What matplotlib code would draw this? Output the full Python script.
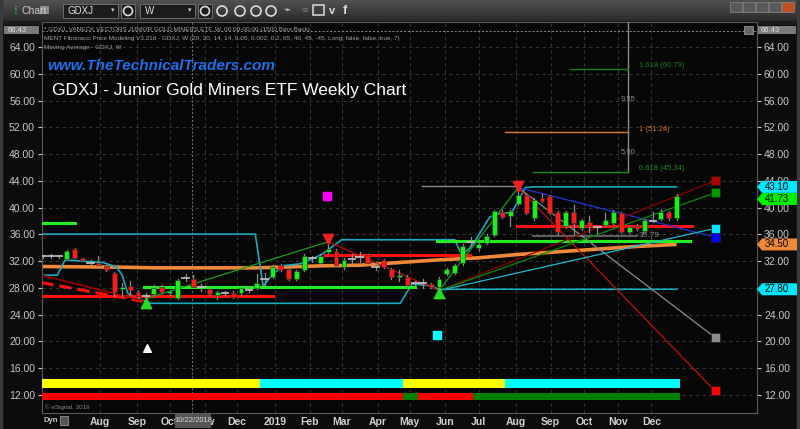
import matplotlib
matplotlib.use('Agg')
import matplotlib.pyplot as plt
from matplotlib.patches import Rectangle, Polygon, Circle
import numpy as np

plt.rcParams['font.family'] = ['Liberation Sans', 'DejaVu Sans']

# ---------------- data ----------------
opens  = [32.7,32.7,32.7,32.3,33.8,32.4,31.8,31.8,31.3,30.3,27.8,28.3,27.4,26.8,27.1,28.2,27.2,26.5,29.5,29.4,
          28.2,27.9,26.9,27.3,27.3,27.2,27.7,28.0,29.3,29.7,31.4,30.8,29.4,30.7,32.4,31.8,33.4,33.5,31.2,32.3,
          32.6,32.9,31.2,32.1,30.8,29.7,29.7,28.7,28.7,28.6,28.1,30.1,30.3,31.7,34.9,33.9,34.7,35.9,39.4,38.8,
          40.6,41.9,38.4,41.5,41.7,39.3,37.2,39.3,36.9,37.8,37.1,37.4,37.7,39.2,36.4,37.3,36.5,38.0,38.3,39.3,38.4]
closes = [32.7,32.7,32.7,33.5,32.5,32.1,31.8,31.4,30.7,27.4,28.2,27.7,26.8,26.8,28.0,27.4,27.5,29.2,29.5,28.2,
          28.2,27.1,27.4,27.3,26.7,28.0,27.7,28.8,29.3,31.2,30.7,29.4,30.5,32.8,32.4,32.8,33.8,31.5,32.2,32.3,
          32.6,31.8,31.2,31.2,29.6,30.0,28.4,28.7,28.7,28.2,29.4,30.8,31.4,34.3,34.9,34.6,35.8,39.5,38.6,39.5,
          41.9,39.2,41.2,41.0,39.2,36.3,39.3,37.7,38.1,37.3,37.1,38.1,39.4,36.4,37.1,36.8,38.1,38.0,39.3,38.4,41.7]
highs  = [32.9,33.0,32.9,33.6,34.0,32.5,32.1,32.8,31.4,30.4,28.7,29.0,27.5,27.2,28.5,28.4,27.7,29.4,30.1,30.0,
          28.6,28.2,27.6,27.6,27.5,28.2,28.3,30.1,30.2,31.5,31.6,31.0,30.7,33.0,32.8,33.0,34.7,33.8,32.4,33.0,
          33.3,33.0,31.7,32.3,31.0,30.7,29.9,29.1,29.3,28.8,29.6,31.0,31.6,34.5,35.6,34.9,36.0,39.7,39.6,39.7,
          42.9,42.1,41.4,42.1,41.9,39.5,39.5,40.4,38.3,38.8,37.3,39.2,39.6,39.4,37.3,37.5,38.3,39.3,39.8,39.5,42.0]
lows   = [32.5,32.4,32.5,32.2,32.4,32.0,31.6,31.3,30.6,26.8,26.8,26.9,26.6,26.2,26.9,27.2,27.0,26.3,29.0,28.0,
          27.5,26.9,26.3,27.0,26.5,27.0,27.4,27.8,28.5,29.5,30.5,29.2,29.2,30.5,31.9,31.6,33.2,31.3,30.9,31.8,
          31.9,31.6,30.7,31.0,29.4,29.0,28.2,28.4,28.0,28.0,27.7,29.9,30.1,31.4,34.2,33.7,34.5,35.7,38.4,37.2,
          40.4,39.0,38.2,40.8,39.0,36.1,37.0,35.9,36.6,36.4,36.2,37.2,37.5,36.2,36.2,36.6,36.3,37.8,38.1,38.2,38.2]

# moving average (week, value)
ma_weeks  = [0, 10, 14, 20, 27, 30, 35, 40, 45, 50, 55, 60, 65, 70, 75, 80]
ma_values = [31.2, 31.1, 31.0, 31.0, 31.0, 31.1, 31.3, 31.4, 31.8, 32.2, 32.5, 33.0, 33.4, 33.8, 34.2, 34.5]

# upper / lower trailing channel (cyan)
up_weeks  = [-0.2, 26.8, 27.8, 28.7, 30.2, 32.4, 33.9, 35.2, 37.7, 52.0, 52.8, 53.7, 54.5, 56.4, 57.7, 59.2, 60.9, 61.9, 80.0]
up_values = [36.05, 36.05, 28.3, 29.6, 31.3, 31.6, 32.3, 33.0, 35.2, 35.2, 33.1, 33.7, 34.9, 38.6, 39.1, 39.3, 43.0, 43.1, 43.1]
lo_weeks  = [-0.2, 1.8, 2.8, 7.6, 9.3, 10.0, 10.7, 11.9, 13.5, 45.1, 46.6, 49.1, 49.9, 80.0]
lo_values = [29.9, 29.9, 32.2, 31.8, 31.1, 29.9, 27.2, 26.5, 25.7, 25.7, 28.6, 28.3, 27.8, 27.8]

# horizontal support / resistance segments: (start week, end week, price)
green_lvls = [(-0.2, 4.0, 37.75), (12.7, 47.0, 28.1), (49.7, 81.7, 35.05)]
red_lvls   = [(-0.2, 29.0, 26.75), (35.6, 53.9, 32.85), (59.8, 81.9, 37.25)]

# swing points
low1, top1, low2, top2 = (13.0, 26.4), (36.0, 34.9), (50.0, 27.6), (60.0, 43.0)
proj_week = 84.85
proj_from_top = {'#2233dd': 35.6, '#8c8c8c': 20.6, '#c01010': 12.6}
proj_from_low = {'#8b0000': 44.0, '#0a8a0a': 42.2, '#20b8d0': 36.9}
square_vals   = [44.0, 42.2, 36.9, 35.6, 20.6, 12.6]
square_cols   = ['#b00000', '#009a00', '#00e8ff', '#0000ff', '#8c8c8c', '#ff0000']

# fibonacci
fib_week = 73.9
fib_levels = [(66.5, 60.79, '#1f7a1f', '1.618 (60.79)'), (58.3, 51.24, '#e07828', '1 (51.24)'),
              (61.9, 45.34, '#1f8a1f', '0.618 (45.34)')]
fib_dist = [(56.1, '9.55'), (48.3, '5.90')]

# bottom indicator bars: boundaries and colours
bar1_edges = [-0.13, 27.4, 45.4, 58.3, 80.4]
bar1_cols  = ['#ffff00', '#00ffff', '#ffff00', '#00ffff']
bar2_edges = [-0.13, 45.4, 47.3, 54.3, 80.4]
bar2_cols  = ['#ff0000', '#008000', '#ff0000', '#008000']

month_pos = [7.2, 11.9, 16.0, 20.5, 24.5, 29.3, 33.7, 37.7, 42.3, 46.3, 50.8, 55.0, 59.7, 64.1, 68.3, 72.6, 76.8]
month_lab = ['Aug', 'Sep', 'Oct', 'Nov', 'Dec', '2019', 'Feb', 'Mar', 'Apr', 'May', 'Jun', 'Jul', 'Aug', 'Sep', 'Oct', 'Nov', 'Dec']
yticks = np.arange(12, 65, 4)

# ---------------- figure ----------------
fig = plt.figure(figsize=(8, 4.29), dpi=100, facecolor='#0c0c0c')

bg = fig.add_axes([0, 0, 1, 1], zorder=0)
bg.set_xlim(0, 800); bg.set_ylim(429, 0); bg.axis('off')
# toolbar
grad = np.linspace(0, 1, 22).reshape(-1, 1)
bg.imshow(grad, extent=[0, 800, 21, 0], cmap=matplotlib.colors.LinearSegmentedColormap.from_list('g', ['#505050', '#2c2c2c']), aspect='auto')
bg.add_patch(Rectangle((0, 21), 800, 3, color='#1a1a1a'))
bg.add_patch(Rectangle((797, 0), 3, 429, color='#3a3a3a'))
bg.add_patch(Rectangle((0, 0), 2, 429, color='#3a3a3a'))
bg.text(14, 10.5, '⁞', color='#2fd02f', fontsize=8, va='center', fontweight='bold')
bg.text(21, 10.5, 'Chart', color='#c8c8c8', fontsize=7.5, va='center')
bg.add_patch(Rectangle((40, 6), 9, 8, facecolor='#8a8a8a', edgecolor='none'))
for (x0, w, t) in [(63, 55, 'GDXJ'), (140, 55, 'W')]:
    bg.add_patch(Rectangle((x0, 4), w, 14, facecolor='#1c1c1c', edgecolor='#777777', lw=0.6))
    bg.text(x0 + 5, 11, t, color='#dddddd', fontsize=7, va='center')
    bg.text(x0 + w - 7, 11, '▾', color='#cccccc', fontsize=5, va='center')
    bg.add_patch(Rectangle((x0 + w + 3, 4), 14, 14, facecolor='#1c1c1c', edgecolor='#777777', lw=0.6))
    bg.add_patch(Circle((x0 + w + 10, 11), 4.5, facecolor='none', edgecolor='#dddddd', lw=1.2))
for cx in [222, 240, 256, 271]:
    bg.add_patch(Circle((cx, 11), 5, facecolor='none', edgecolor='#dddddd', lw=1.2))
bg.text(283, 11, '⌁', color='#dddddd', fontsize=8, va='center')
bg.text(302, 11, 'SS', color='#888888', fontsize=4, va='center')
bg.add_patch(Rectangle((313, 5), 11, 10, facecolor='none', edgecolor='#dddddd', lw=1.1))
bg.text(329, 11, 'v', color='#dddddd', fontsize=8, va='center', fontweight='bold')
bg.text(343, 11, 'f', color='#dddddd', fontsize=9, va='center', fontweight='bold')
for i, x0 in enumerate([730, 743, 756, 769, 782]):
    bg.add_patch(Rectangle((x0, 2), 12, 10, facecolor='#c05020' if i == 4 else '#5a5a5a', edgecolor='#888888', lw=0.5))

# ---------------- main chart ----------------
ax = fig.add_axes([42 / 800, (429 - 413) / 429, 715 / 800, 391 / 429], zorder=1)
ax.set_facecolor('#070707')
ax.set_xlim(-0.126, 90.15)
ax.set_ylim(9.31, 67.74)
for s in ax.spines.values():
    s.set_color('#5a5a5a'); s.set_linewidth(0.8)
ax.set_yticks(yticks)
ax.set_yticklabels([f'{v:.2f}' for v in yticks])
ax.tick_params(axis='y', which='both', left=True, right=True, labelleft=True, labelright=True,
               colors='#c8c8c8', labelsize=7.5, length=3, pad=2)
ax.set_xticks(month_pos)
ax.set_xticklabels(month_lab, fontweight='bold')
ax.tick_params(axis='x', colors='#d0d0d0', labelsize=7.5, length=0, pad=3)
ax.grid(True, color='#333333', linestyle=(0, (3, 3)), linewidth=0.8)
ax.axhline(66.43, color='#8a8a8a', lw=0.7, ls=(0, (2, 2)))
ax.axvline(18.8, color='#777777', lw=0.7, ls=(0, (2, 2)))

# MA
ax.plot(ma_weeks, ma_values, color='#f0883a', lw=2.6, solid_capstyle='butt', zorder=3)
# channels
ax.plot(up_weeks, up_values, color='#1aa9bf', lw=1.2, zorder=3)
ax.plot(lo_weeks, lo_values, color='#1aa9bf', lw=1.2, zorder=3)
for a, b, v in green_lvls:
    ax.plot([a, b], [v, v], color='#22ee22', lw=2.2, zorder=3)
for a, b, v in red_lvls:
    ax.plot([a, b], [v, v], color='#ff1010', lw=2.2, zorder=3)
ax.plot([-0.2, 12.6], [28.8, 26.0], color='#ff1010', lw=2.2, ls=(0, (4, 2)), zorder=3)
ax.plot([-0.2, 12.6], [29.9, 26.1], color='#a00000', lw=1.2, zorder=3)
# grey and cyan highs, grey low
ax.plot([47.9, 60.0], [43.2, 43.2], color='#8a8a8a', lw=1.0, zorder=3)
ax.plot([61.9, 75.0], [35.75, 35.75], color='#6e6e6e', lw=1.2, zorder=3)
ax.text(75.2, 35.9, '35.79', color='#8a8a8a', fontsize=6, va='center', zorder=4)
# swing lines
ax.plot([low1[0], top1[0]], [low1[1], top1[1]], color='#1c9c1c', lw=0.9, zorder=3)
ax.plot([top1[0], low2[0]], [top1[1], low2[1]], color='#b81010', lw=0.9, zorder=3)
ax.plot([low2[0], top2[0]], [low2[1], top2[1]], color='#1c9c1c', lw=0.9, zorder=3)
for c, v in proj_from_top.items():
    ax.plot([top2[0], proj_week], [top2[1], v], color=c, lw=0.9, zorder=3)
for c, v in proj_from_low.items():
    ax.plot([low2[0], proj_week], [low2[1], v], color=c, lw=0.9, zorder=3)
ax.scatter([proj_week] * len(square_vals), square_vals, marker='s', s=42, c=square_cols,
           edgecolors='#202020', linewidths=0.5, zorder=6)

# fib
ax.plot([fib_week, fib_week], [45.34, 67.74], color='#8a8a8a', lw=1.0, zorder=3)
for start, lvl, col, lab in fib_levels:
    ax.plot([start, fib_week], [lvl, lvl], color=col, lw=1.0, zorder=3)
    ax.text(fib_week + 1.3, lvl + 0.45, lab, color=col, fontsize=5.5, va='center', zorder=4)
for y, lab in fib_dist:
    ax.text(fib_week, y, lab, color='#8a8a8a', fontsize=5.5, ha='center', va='center', zorder=4)

# candles
bw = 0.62
for i, (o, c, h, l) in enumerate(zip(opens, closes, highs, lows)):
    ax.plot([i, i], [l, h], color='#8c8c8c', lw=0.9, zorder=4)
    if abs(c - o) < 1e-9:
        ax.plot([i - 0.42, i + 0.42], [o, o], color='#bbbbbb', lw=1.3, zorder=5)
    else:
        col = '#19f019' if c > o else '#ff1a1a'
        ax.add_patch(Rectangle((i - bw / 2, min(o, c)), bw, abs(c - o), facecolor=col,
                               edgecolor='#2a2a2a', lw=0.4, zorder=5))

# markers
ax.scatter([low1[0], low2[0]], [low1[1] - 0.7, low2[1] - 0.3], marker='^', s=55, c='#22dd22', zorder=6)
ax.scatter([top1[0], top2[0]], [top1[1] + 0.4, top2[1] + 0.25], marker='v', s=55, c='#ee2222', zorder=6)
ax.scatter([35.9], [41.7], marker='s', s=30, c='#ff00ff', zorder=6)
ax.scatter([49.7], [21.0], marker='s', s=30, c='#00ffff', zorder=6)
ax.scatter([13.1], [19.0], marker='^', s=30, c='#ffffff', zorder=6)

# indicator bars
for k in range(len(bar1_cols)):
    ax.add_patch(Rectangle((bar1_edges[k], 13.04), bar1_edges[k + 1] - bar1_edges[k], 1.35,
                           facecolor=bar1_cols[k], edgecolor='none', zorder=3))
for k in range(len(bar2_cols)):
    ax.add_patch(Rectangle((bar2_edges[k], 11.25), bar2_edges[k + 1] - bar2_edges[k], 1.05,
                           facecolor=bar2_cols[k], edgecolor='none', zorder=3))

# ---------------- foreground overlay ----------------
fg = fig.add_axes([0, 0, 1, 1], zorder=3)
fg.set_xlim(0, 800); fg.set_ylim(429, 0); fg.axis('off'); fg.patch.set_alpha(0)

def py(p):
    return 429 - ax.transData.transform((0, p))[1]

hdr = ['* GDXJ, VANECK VECTORS JUNIOR GOLD MINERS ETF, W, 00:00-00:00 (1500 Bars Back)',
       'MENT Fibonacci Price Modeling V3.21d - GDXJ, W (20, 20, 14, 14, 0.05, 0.002, 0.2, 65, 40, 45, -45, Long, false, false, true, 7)',
       'Moving Average - GDXJ, W']
for k, t in enumerate(hdr):
    fg.text(44, 30 + 8.5 * k, t, color='#a0a0a0', fontsize=4.6, va='center')

fg.text(47, 66, 'www.TheTechnicalTraders.com', color='#1f6fe8', fontsize=11, fontweight='bold',
        fontstyle='italic', va='center')
fg.text(53, 91, 'GDXJ - Junior Gold Miners ETF Weekly Chart', color='#111111', fontsize=12.5, va='center')
fg.text(52, 90, 'GDXJ - Junior Gold Miners ETF Weekly Chart', color='#ffffff', fontsize=12.5, va='center')

def tag(x0, x1, y, txt, col, tcol='#000000'):
    pts = [(x0, y), (x0 + 5, y - 6), (x1, y - 6), (x1, y + 6), (x0 + 5, y + 6)]
    fg.add_patch(Polygon(pts, closed=True, facecolor=col, edgecolor='none'))
    fg.text(x0 + 8, y, txt, color=tcol, fontsize=7, va='center')

tag(757, 797, py(43.10), '43.10', '#00e8ff')
tag(757, 797, py(41.73) + 3, '41.73', '#00ee00')
tag(757, 797, py(34.50), '34.50', '#f0883a')
tag(757, 797, py(27.80), '27.80', '#00e8ff')
fg.add_patch(Rectangle((758, 26), 38, 8, facecolor='#7a7a7a'))
fg.text(761, 30, '66.43', color='#e0e0e0', fontsize=5.5, va='center')
fg.add_patch(Rectangle((4, 26), 35, 8, facecolor='#7a7a7a'))
fg.text(8, 30, '66.43', color='#e0e0e0', fontsize=5.5, va='center')
fg.add_patch(Rectangle((744, 26), 9, 8, facecolor='#666666', edgecolor='#aaaaaa', lw=0.5))

fg.text(45, 407, '© eSignal, 2019', color='#8a8a8a', fontsize=4.5, va='center')
fg.text(44, 421, 'Dyn', color='#cccccc', fontsize=5.5, va='center', fontweight='bold')
fg.add_patch(Rectangle((60, 416), 8, 9, facecolor='#555555', edgecolor='#aaaaaa', lw=0.5))
fg.add_patch(Rectangle((175, 414), 36, 14, facecolor='#555555', edgecolor='none'))
fg.text(193, 421, '10/22/2018', color='#dddddd', fontsize=5.5, va='center', ha='center')

fig.savefig('out.png', dpi=100, facecolor=fig.get_facecolor())
